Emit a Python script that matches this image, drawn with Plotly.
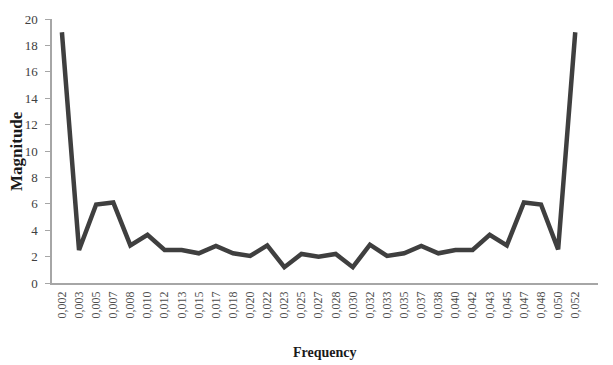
import plotly.graph_objects as go

categories = ["0,002", "0,003", "0,005", "0,007", "0,008", "0,010", "0,012", "0,013",
              "0,015", "0,017", "0,018", "0,020", "0,022", "0,023", "0,025", "0,027",
              "0,028", "0,030", "0,032", "0,033", "0,035", "0,037", "0,038", "0,040",
              "0,042", "0,043", "0,045", "0,047", "0,048", "0,050", "0,052"]
magnitude = [19.0, 2.5, 5.95, 6.1, 2.85, 3.65, 2.5, 2.5,
             2.25, 2.8, 2.25, 2.05, 2.85, 1.2, 2.2, 2.0,
             2.2, 1.2, 2.9, 2.05, 2.25, 2.8, 2.25, 2.5,
             2.5, 3.65, 2.85, 6.1, 5.95, 2.55, 19.0]
y_ticks = [0, 2, 4, 6, 8, 10, 12, 14, 16, 18, 20]

serif = "Liberation Serif, Times New Roman, serif"

fig = go.Figure()
fig.add_trace(go.Scatter(x=categories, y=magnitude, mode="lines",
                         line=dict(color="#3f3f3f", width=4.5)))

fig.update_layout(
    width=613, height=365,
    margin=dict(l=52, r=15, t=13, b=82),
    paper_bgcolor="white", plot_bgcolor="white",
    showlegend=False,
    font=dict(family=serif, color="#404040"),
    xaxis=dict(type="category", range=[-0.58, 31.33], showgrid=False,
               showline=True, linecolor="#a6a6a6", linewidth=1.5,
               ticks="", tickangle=-90, ticklabelstandoff=2,
               tickfont=dict(size=12, family=serif, color="#505050"),
               zeroline=False),
    yaxis=dict(range=[0, 20], tickvals=y_ticks, showgrid=False,
               showline=True, linecolor="#a6a6a6", linewidth=1.5,
               ticks="outside", ticklen=5, tickcolor="#a6a6a6",
               ticklabelstandoff=5,
               tickfont=dict(size=13, family=serif, color="#404040"),
               zeroline=False),
    annotations=[
        dict(text="<b>Frequency</b>", xref="paper", yref="paper", x=0.5, y=-0.263,
             xanchor="center", yanchor="middle", showarrow=False,
             font=dict(size=14, family=serif, color="#1a1a1a")),
        dict(text="<b>Magnitude</b>", xref="paper", yref="paper", x=-0.066, y=0.5,
             xanchor="center", yanchor="middle", showarrow=False, textangle=-90,
             font=dict(size=17, family=serif, color="#1a1a1a")),
    ],
)

fig.write_html("out.html")
